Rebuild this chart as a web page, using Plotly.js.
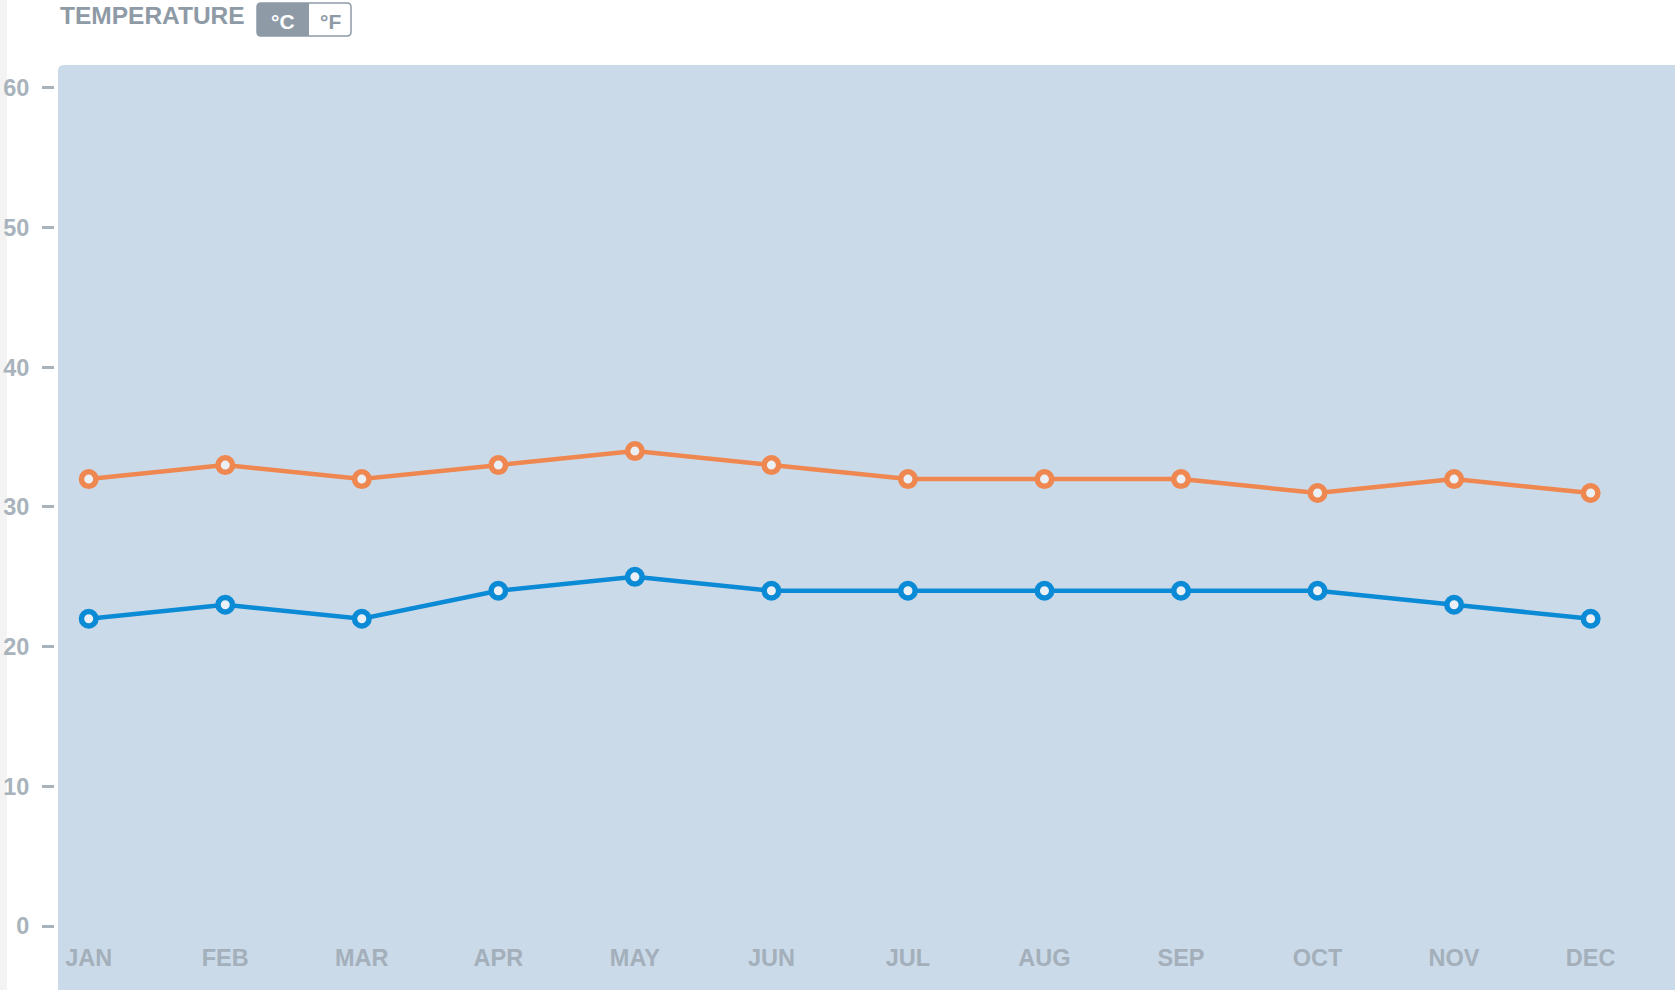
<!DOCTYPE html>
<html>
<head>
<meta charset="utf-8">
<script src="https://cdn.plot.ly/plotly-3.0.1.min.js"></script>
<style>html,body{margin:0;padding:0;background:#fff;}#chart{width:1675px;height:990px;}</style>
</head>
<body>
<div id="chart"></div>
<script>
const months = ['JAN','FEB','MAR','APR','MAY','JUN','JUL','AUG','SEP','OCT','NOV','DEC'];
const highC = [32,33,32,33,34,33,32,32,32,31,32,31];
const lowC  = [22,23,22,24,25,24,24,24,24,24,23,22];
const yTicks = [0,10,20,30,40,50,60];

const W = 1675, H = 990;
const M = {l:55, r:0, t:65, b:55};
const PW = W - M.l - M.r, PH = H - M.t - M.b;
const fx = px => (px - M.l) / PW;
const fy = py => (H - M.b - py) / PH;

const grey = '#a6b1bb';
const font = 'Liberation Sans, Arial, sans-serif';

function trace(vals, color, name){
  return {
    x: months, y: vals, type:'scatter', mode:'lines+markers', name:name,
    line:{color:color, width:4.5},
    marker:{symbol:'circle', size:14.5, color:'#eaf0f6', line:{color:color, width:5.5}},
    hoverinfo:'x+y'
  };
}
const data = [trace(highC,'#ef8751','High'), trace(lowC,'#0b8ad6','Low')];

// rounded rectangle path in paper coordinates, built from pixel corners; r = [tl, tr, br, bl]
function rr(x1, y1, x2, y2, r){
  const P = (x, y) => `${fx(x)},${fy(y)}`;
  const [tl, tr, br, bl] = r;
  return `M ${P(x1, y1+tl)} Q ${P(x1, y1)} ${P(x1+tl, y1)} L ${P(x2-tr, y1)} Q ${P(x2, y1)} ${P(x2, y1+tr)} ` +
         `L ${P(x2, y2-br)} Q ${P(x2, y2)} ${P(x2-br, y2)} L ${P(x1+bl, y2)} Q ${P(x1, y2)} ${P(x1, y2-bl)} Z`;
}

const layout = {
  width: W, height: H,
  margin: M,
  paper_bgcolor:'#ffffff',
  plot_bgcolor:'rgba(0,0,0,0)',
  showlegend:false,
  font:{family:font, color:grey},
  xaxis:{
    type:'category',
    range:[-0.247, 11.618],
    showgrid:false, zeroline:false, showline:false,
    ticks:'',
    ticklabelstandoff:6,
    tickfont:{family:font, size:23.5, weight:'bold', color:'#a3afba'},
    fixedrange:true
  },
  yaxis:{
    range:[-0.644, 61.645],
    tickvals: yTicks,
    showgrid:false, zeroline:false, showline:false,
    ticks:'outside', ticklen:12, tickwidth:2.5, tickcolor:'#a9b3bc',
    ticklabelstandoff:8,
    tickfont:{family:font, size:23.5, weight:'bold', color:'#a9b3bc'},
    fixedrange:true
  },
  shapes:[
    {type:'path', xref:'paper', yref:'paper', path:rr(58, 65, W+2, H+20, [6,0,0,0]), fillcolor:'#cbdae8', line:{width:0}, layer:'below'},
    {type:'rect', xref:'paper', yref:'paper', x0:fx(0), x1:fx(7), y0:fy(H+20), y1:fy(-5), fillcolor:'#f3f3f3', line:{width:0}, layer:'below'},
    {type:'path', xref:'paper', yref:'paper', path:rr(257, 3, 351, 36, [4,4,4,4]), fillcolor:'#ffffff', line:{color:'#8e9aa6', width:1.5}, layer:'below'},
    {type:'path', xref:'paper', yref:'paper', path:rr(257, 3, 309, 36, [4,0,0,4]), fillcolor:'#8e9aa6', line:{width:0}, layer:'below'}
  ],
  annotations:[
    {xref:'paper', yref:'paper', x:fx(58), y:fy(16), xanchor:'left', yanchor:'middle', showarrow:false,
     text:'TEMPERATURE', font:{family:font, size:24.5, weight:'bold', color:'#8e9aa6'}},
    {xref:'paper', yref:'paper', x:fx(283), y:fy(22), xanchor:'center', yanchor:'middle', showarrow:false,
     text:'°C', font:{family:font, size:21, weight:'bold', color:'#ffffff'}},
    {xref:'paper', yref:'paper', x:fx(330), y:fy(22), xanchor:'center', yanchor:'middle', showarrow:false,
     text:'°F', font:{family:font, size:21, weight:'bold', color:'#8e9aa6'}}
  ]
};

Plotly.newPlot('chart', data, layout, {displayModeBar:false});
</script>
</body>
</html>
